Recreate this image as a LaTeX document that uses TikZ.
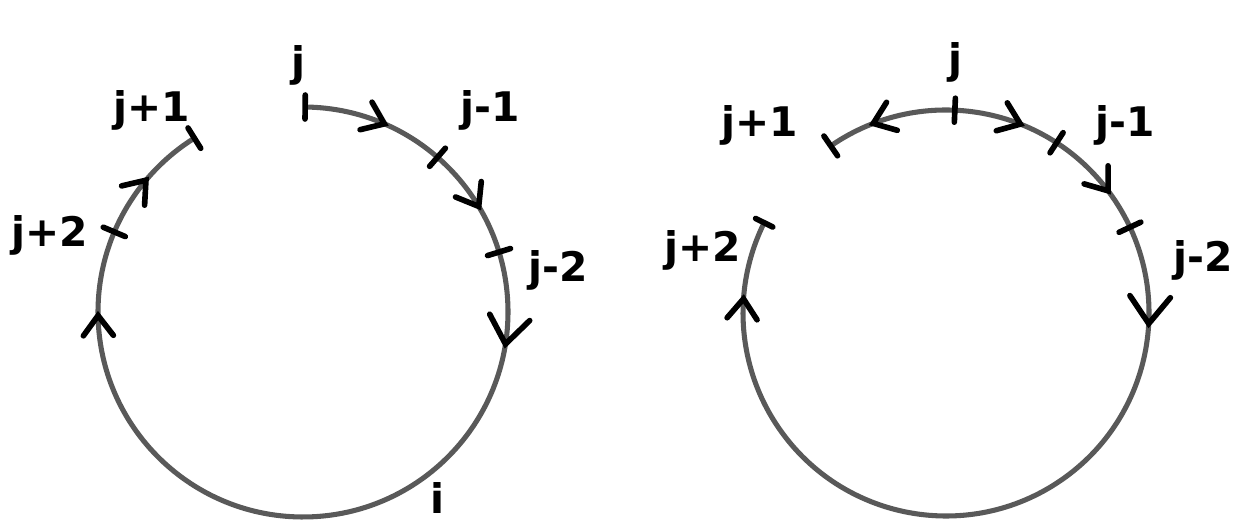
\documentclass[tikz,border=0pt]{standalone}
\usepackage{fontspec}
\setsansfont{DejaVu Sans}
\usetikzlibrary{calc}

\begin{document}
\begin{tikzpicture}[x=0.25mm, y=0.25mm,
  font=\sffamily\bfseries\fontsize{29}{31}\selectfont,
  loop/.style={draw=black!65, line width=3.6pt},
  mk/.style={draw=black, line width=4pt, line cap=round},
  lab/.style={inner sep=0pt, text=black},
  vhead/.pic={\draw[mk] (-20,15)--(0,0)--(-20,-15);},
  bar/.pic={\draw[mk] (-12,0)--(12,0);},
]
\useasboundingbox (0,0) rectangle (1241,522);

% ---- left loop: one way round ----
\coordinate (L) at (303,210);
\draw[loop] (L) ++(89.4:205) arc[start angle=89.4, end angle=-238, radius=205];
\foreach \a in {89.4,122,49,17,157}
  \path (L) ++(\a:205) pic[rotate=\a] {bar};
\foreach \a in {66.6,31,181,140}
  \path (L) ++(\a:205) pic[rotate=\a-90] {vhead};
\path (L) ++(-9:205) pic[rotate=-99, scale=1.35] {vhead};

\node[lab] (lj)  at (298,457) {j};
\node[lab] (lj1) at (152,412) {j+1};
\node[lab] (lj2) at (50,287)  {j+2};
\node[lab] (lm1) at (490,412) {j-1};
\node[lab] (lm2) at (558,252) {j-2};
\node[lab, anchor=south] (li) at (437,8) {i};

% ---- right loop: both ways from j ----
\coordinate (R) at (946,209);
\draw[loop] (R) ++(124.6:203) arc[start angle=124.6, end angle=-206.4, radius=203];
\foreach \a in {124.6,87.5,57,25}
  \path (R) ++(\a:203) pic[rotate=\a] {bar};
\path (R) ++(153.6:203) pic[rotate=153.6, scale=0.8] {bar};
\foreach \a in {68.5,37,176}
  \path (R) ++(\a:203) pic[rotate=\a-90] {vhead};
\path (R) ++(111:203) pic[rotate=201] {vhead};
\path (R) ++(-3:203) pic[rotate=-93, scale=1.35] {vhead};

\node[lab] (rj)  at (955,460)  {j};
\node[lab] (rj1) at (760,397)  {j+1};
\node[lab] (rj2) at (703,272)  {j+2};
\node[lab] (rm1) at (1125,397) {j-1};
\node[lab] (rm2) at (1203,262) {j-2};

\end{tikzpicture}
\end{document}
